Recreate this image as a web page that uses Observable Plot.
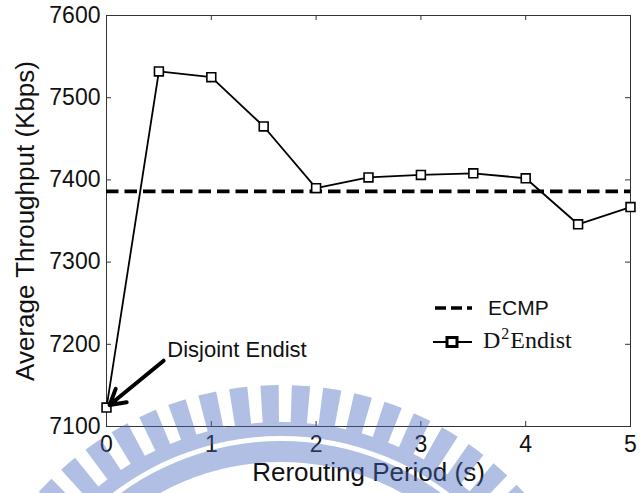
<!DOCTYPE html>
<html><head><meta charset="utf-8">
<script src="https://cdn.jsdelivr.net/npm/d3@7"></script>
<script src="https://cdn.jsdelivr.net/npm/@observablehq/plot@0.6"></script>
<style>
html,body{margin:0;padding:0;background:#fff;}
#chart{position:relative;width:640px;height:493px;overflow:hidden;}
#chart svg{position:absolute;left:0;top:0;}
</style></head><body><div id="chart"></div>
<script>
// ---- data ----
const periods = [0, 0.5, 1, 1.5, 2, 2.5, 3, 3.5, 4, 4.5, 5];
const d2endist = [7123, 7532, 7525, 7465, 7390, 7403, 7406, 7408, 7402, 7346, 7367];
const ecmp = 7386;
const xTicks = [0, 1, 2, 3, 4, 5];
const yTicks = [7100, 7200, 7300, 7400, 7500, 7600];
const xInnerTicks = [1, 2, 3, 4];
const yInnerTicks = [7200, 7300, 7400, 7500];
const seriesNames = ["ECMP", "D", "2", "Endist"];
const annotationText = "Disjoint Endist";
const annotationAt = [0.58, 7184];
const arrowFrom = [0.545, 7180];
const xLabel = "Rerouting Period (s)";
const yLabel = "Average Throughput (Kbps)";

// ---- layout ----
const W = 640, H = 493, mL = 106, mR = 10, mT = 15, mB = 67;
const fW = W - mL - mR, fH = H - mT - mB;
const sans = "'Liberation Sans', Arial, sans-serif";

const rows = periods.map((p, i) => ({period: p, value: d2endist[i]}));
const tickStroke = "#333";

const chart = Plot.plot({
  width: W, height: H,
  marginLeft: mL, marginRight: mR, marginTop: mT, marginBottom: mB,
  style: {fontFamily: sans, background: "white", color: "#111"},
  x: {domain: [0, 5], label: null},
  y: {domain: [7100, 7600], label: null},
  marks: [
    Plot.frame({stroke: tickStroke, strokeWidth: 1}),
    Plot.ruleX(xInnerTicks, {x: d => d, insetTop: fH - 5, stroke: tickStroke}),
    Plot.ruleX(xInnerTicks, {x: d => d, insetBottom: fH - 5, stroke: tickStroke}),
    Plot.ruleY(yInnerTicks, {y: d => d, insetRight: fW - 5, stroke: tickStroke}),
    Plot.ruleY(yInnerTicks, {y: d => d, insetLeft: fW - 5, stroke: tickStroke}),
    Plot.axisX(xTicks, {tickSize: 0, tickPadding: 9, fontSize: 23, tickFormat: d => String(d), fill: "#111"}),
    Plot.axisY(yTicks, {tickSize: 0, tickPadding: 6, fontSize: 23, tickFormat: d => String(d), fill: "#111"}),
    Plot.text([xLabel], {frameAnchor: "bottom", textAnchor: "middle", dy: 54, lineAnchor: "bottom", fontSize: 26, fill: "#111"}),
    Plot.text([yLabel], {frameAnchor: "left", textAnchor: "middle", dx: -73, rotate: -90, lineAnchor: "bottom", fontSize: 26, fill: "#111"}),
    Plot.line(rows, {x: "period", y: "value", stroke: "black", strokeWidth: 1.8}),
    Plot.ruleY([ecmp], {stroke: "black", strokeWidth: 3.6, strokeDasharray: "12.5,6"}),
    Plot.dot(rows, {x: "period", y: "value", symbol: "square", r: 5, stroke: "black", strokeWidth: 1.6, fill: "white"}),
    Plot.text([annotationText], {x: () => annotationAt[0], y: () => annotationAt[1], textAnchor: "start", lineAnchor: "bottom", fontSize: 22, fill: "#111"}),
    Plot.arrow([{x1: arrowFrom[0], y1: arrowFrom[1], x2: periods[0], y2: d2endist[0]}],
      {x1: "x1", y1: "y1", x2: "x2", y2: "y2", stroke: "black", strokeWidth: 4, headLength: 6.5, insetEnd: 4})
  ]
});
document.getElementById("chart").appendChild(chart);

// ---- legend (inside the axes, lower right) ----
const leg = d3.select("#chart").append("svg").attr("width", W).attr("height", H);
leg.append("line").attr("x1", 435).attr("x2", 472).attr("y1", 308).attr("y2", 308)
  .attr("stroke", "black").attr("stroke-width", 3.6).attr("stroke-dasharray", "11,5");
leg.append("text").attr("x", 488).attr("y", 315).attr("font-family", sans).attr("font-size", 21)
  .attr("fill", "#111").text(seriesNames[0]);
leg.append("line").attr("x1", 433).attr("x2", 472).attr("y1", 342).attr("y2", 342)
  .attr("stroke", "black").attr("stroke-width", 1.8);
leg.append("rect").attr("x", 447).attr("y", 337.5).attr("width", 10).attr("height", 9)
  .attr("fill", "white").attr("stroke", "black").attr("stroke-width", 3);
const lt = leg.append("text").attr("x", 483).attr("y", 348)
  .attr("font-family", "'Liberation Serif', 'DejaVu Serif', serif").attr("font-size", 24).attr("fill", "#111");
lt.append("tspan").text(seriesNames[1]);
lt.append("tspan").attr("dx", 1).attr("dy", -9).attr("font-size", 16).text(seriesNames[2]);
lt.append("tspan").attr("dx", 1).attr("dy", 9).text(seriesNames[3]);

// ---- watermark (decorative background logo, drawn semi-transparent on top) ----
const wm = d3.select("#chart").append("svg").attr("width", W).attr("height", H)
  .style("pointer-events", "none");
const g = wm.append("g").attr("transform", "translate(281,713)")
  .attr("fill", "rgb(70,105,190)").attr("opacity", 0.42);
const R = 328, deg = Math.PI / 180;
const arc = d3.arc();
for (let a = -90; a <= 90; a += 5.5) {
  g.append("path").attr("d", arc({innerRadius: R - 40, outerRadius: R,
    startAngle: (a - 1.6) * deg, endAngle: (a + 1.6) * deg}));
}
g.append("path").attr("d", arc({innerRadius: R - 51, outerRadius: R - 37, startAngle: -Math.PI, endAngle: Math.PI}));
g.append("path").attr("d", arc({innerRadius: R - 77, outerRadius: R - 56, startAngle: -Math.PI, endAngle: Math.PI}));
</script></body></html>
